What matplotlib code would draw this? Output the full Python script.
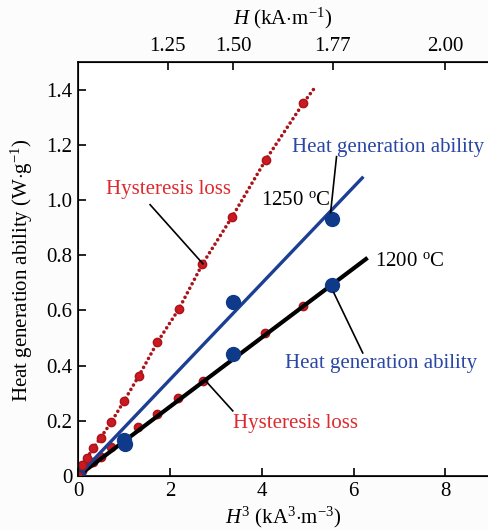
import matplotlib
matplotlib.use("Agg")
import matplotlib.pyplot as plt

plt.rcParams['font.family'] = ['Liberation Serif', 'DejaVu Serif']
plt.rcParams['mathtext.fontset'] = 'custom'
plt.rcParams['mathtext.rm'] = 'Liberation Serif'
plt.rcParams['mathtext.it'] = 'Liberation Serif:italic'
plt.rcParams['font.size'] = 15

# hysteresis loss points (H^3 in kA^3 m^-3, W/g)
hyst_1250_x = [0.0, 0.08, 0.19, 0.33, 0.49, 0.72, 1.0, 1.33, 1.73, 2.20, 2.71, 3.36, 4.09, 4.91]
hyst_1250_y = [0.0, 0.04, 0.064, 0.10, 0.138, 0.194, 0.271, 0.364, 0.485, 0.606, 0.768, 0.94, 1.146, 1.352]
hyst_1250_line_x = hyst_1250_x + [5.17]
hyst_1250_line_y = hyst_1250_y + [1.41]

hyst_1200_x = [0.0, 0.08, 0.22, 0.33, 0.49, 0.72, 1.31, 1.72, 2.18, 2.72, 4.08, 4.90]
hyst_1200_y = [0.0, 0.018, 0.046, 0.05, 0.07, 0.106, 0.178, 0.224, 0.284, 0.346, 0.517, 0.617]

# measured heat generation ability
heat_1250_x = [0.0, 1.0, 3.38, 5.53]
heat_1250_y = [0.0, 0.13, 0.632, 0.932]
heat_1200_x = [0.0, 1.02, 3.38, 5.53]
heat_1200_y = [0.0, 0.115, 0.443, 0.693]

# fitted lines
fit_1250_x = [0.0, 6.19]
fit_1250_y = [0.0, 1.08]
fit_1200_x = [0.0, 6.27]
fit_1200_y = [0.0, 0.786]

top_ticks_h = [1.25, 1.50, 1.77, 2.00]
top_labels = ['1.25', '1.50', '1.77', '2.00']

red_dark = '#a8141a'
red_pt = '#cc1820'
red_txt = '#dd2a2e'
blue = '#1c3f94'
blue_pt = '#0f3a8a'
blue_txt = '#2a47a6'

fig = plt.figure(figsize=(4.89, 5.30), dpi=100)
ax = fig.add_axes([78/489, 1 - 476/530, 1 - 78/489, (476 - 62)/530])

ax.plot(fit_1200_x, fit_1200_y, color='black', lw=3.0, zorder=3)
ax.plot(fit_1250_x, fit_1250_y, color=blue, lw=2.4, zorder=3)
ax.plot(hyst_1250_line_x, hyst_1250_line_y, color=red_dark, lw=2.6,
        linestyle=(0, (0.01, 1.4)), dash_capstyle='round', zorder=4)
ax.plot(hyst_1250_x, hyst_1250_y, 'o', ms=6, mfc=red_pt, mec=red_dark, mew=1, zorder=5)
ax.plot(hyst_1200_x, hyst_1200_y, 'o', ms=6, mfc=red_pt, mec=red_dark, mew=1, zorder=2)
ax.plot(heat_1250_x, heat_1250_y, 'o', ms=10, color=blue_pt, zorder=4)
ax.plot(heat_1200_x, heat_1200_y, 'o', ms=10, color=blue_pt, zorder=4)

ax.set_xlim(0, 8.95)
ax.set_ylim(0, 1.5)
ax.set_xticks([0, 2, 4, 6, 8])
ax.set_xticklabels(['0', '2', '4', '6', '8'])
ax.set_yticks([0, 0.2, 0.4, 0.6, 0.8, 1.0, 1.2, 1.4])
ax.set_yticklabels(['0', '0.2', '0.4', '0.6', '0.8', '1.0', '1.2', '1.4'])
ax.tick_params(direction='in', length=6, width=1.2, pad=4)
ax.spines['right'].set_visible(False)
for s in ['left', 'bottom', 'top']:
    ax.spines[s].set_linewidth(1.2)

top = ax.twiny()
top.set_xlim(ax.get_xlim())
top.set_xticks([h ** 3 for h in top_ticks_h])
top.set_xticklabels(top_labels)
top.tick_params(direction='in', length=6, width=1.2, pad=4)
top.spines['right'].set_visible(False)

fig.text(283/489, 1 - 517/530, r'$H^3$ (kA$^3$$\cdot$m$^{-3}$)', ha='center', va='center')
fig.text(283/489, 1 - 18/530, r'$H$ (kA$\cdot$m$^{-1}$)', ha='center', va='center')
fig.text(22/489, 1 - 270/530, r'Heat generation ability (W$\cdot$g$^{-1}$)',
         rotation=90, ha='center', va='center')

# annotations
ax.text(1.96, 1.037, 'Hysteresis loss', color=red_txt, ha='center', va='center')
ax.plot([1.57, 2.72], [0.983, 0.769], color='black', lw=1.2, zorder=6)
ax.text(4.74, 0.997, r'1250 $^{\mathrm{o}}$C', ha='center', va='center')
ax.text(6.76, 1.19, 'Heat generation ability', color=blue_txt, ha='center', va='center')
ax.plot([5.63, 5.50], [1.157, 0.954], color='black', lw=1.2, zorder=6)
ax.text(7.22, 0.776, r'1200 $^{\mathrm{o}}$C', ha='center', va='center')
ax.text(6.59, 0.406, 'Heat generation ability', color=blue_txt, ha='center', va='center')
ax.plot([5.57, 6.2], [0.664, 0.446], color='black', lw=1.2, zorder=6)
ax.text(4.74, 0.192, 'Hysteresis loss', color=red_txt, ha='center', va='center')
ax.plot([2.8, 3.37], [0.341, 0.236], color='black', lw=1.2, zorder=6)

fig.savefig('out.png', dpi=100, facecolor='#fcfcfc')
